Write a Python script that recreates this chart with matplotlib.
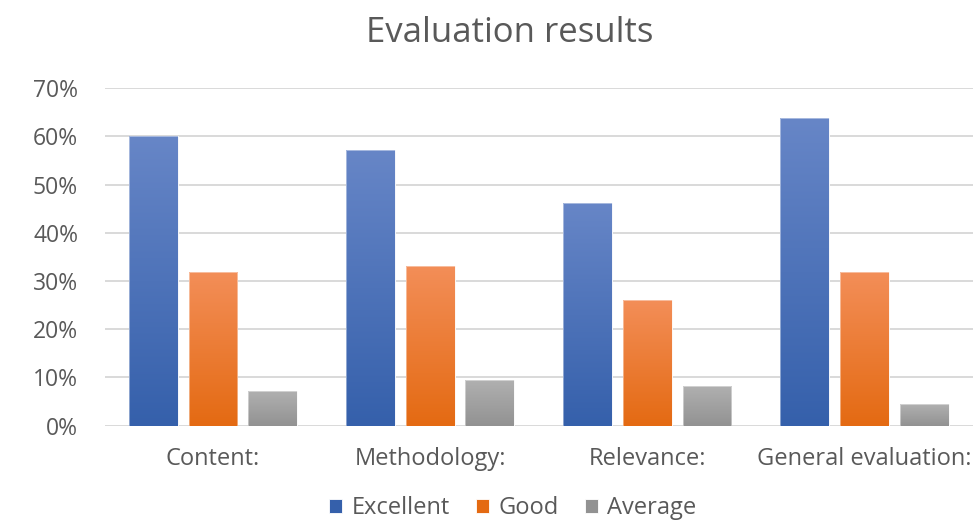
import matplotlib.pyplot as plt
import numpy as np
from matplotlib.colors import LinearSegmentedColormap

plt.rcParams['font.family'] = ['Open Sans', 'DejaVu Sans']

categories = ['Content:', 'Methodology:', 'Relevance:', 'General evaluation:']
series = ['Excellent', 'Good', 'Average']
excellent = [0.60, 0.572, 0.462, 0.638]
good = [0.319, 0.331, 0.261, 0.319]
average = [0.072, 0.095, 0.082, 0.045]

# top / bottom colours of each gradient fill
shades = [('#6786c7', '#3560ab'), ('#f38e58', '#e46a12'), ('#b0b0b0', '#929292')]

fig = plt.figure(figsize=(9.73, 5.24), dpi=100)
ax = fig.add_axes([0.1074, 0.1876, 0.8926, 0.6439])

x = np.arange(len(categories))
width = 0.225
step = 0.275
for i, (name, vals) in enumerate(zip(series, [excellent, good, average])):
    top, bottom = shades[i]
    cmap = LinearSegmentedColormap.from_list(name, [bottom, top])
    bars = ax.bar(x + (i - 1) * step, vals, width, color=bottom, label=name,
                  edgecolor='#ffffff', linewidth=0.6, zorder=2)
    for b in bars:
        x0, x1 = b.get_x(), b.get_x() + b.get_width()
        h = b.get_height()
        grad = np.linspace(0, 1, 256).reshape(-1, 1)
        ax.imshow(grad, cmap=cmap, origin='lower', aspect='auto',
                  extent=[x0, x1, 0, h], zorder=2.5)
        ax.add_patch(plt.Rectangle((x0, 0), x1 - x0, h, fill=False,
                                   edgecolor='#ffffff', linewidth=0.6,
                                   alpha=0.5, zorder=3))

ax.set_xlim(-0.5, len(categories) - 0.5)
ax.set_ylim(0, 0.7)
ax.set_yticks(np.arange(0, 0.71, 0.1))
ax.set_yticklabels([f'{int(round(v * 100))}%' for v in np.arange(0, 0.71, 0.1)])
ax.set_xticks(x)
ax.set_xticklabels(categories)
ax.tick_params(axis='both', length=0, labelcolor='#595959')
ax.tick_params(axis='y', pad=19, labelsize=16.5)
ax.tick_params(axis='x', pad=15, labelsize=17)
ax.yaxis.grid(True, color='#d9d9d9', linewidth=1.4, zorder=0)
ax.set_axisbelow(True)
for s in ax.spines.values():
    s.set_visible(False)

fig.text(0.524, 0.937, 'Evaluation results', ha='center', va='center',
         fontsize=25, color='#595959')

fig.legend(loc='center', bbox_to_anchor=(0.527, 0.03), ncol=3, frameon=False,
           fontsize=17, labelcolor='#595959', handlelength=0.55, handleheight=0.55,
           handletextpad=0.4, columnspacing=1.1)

fig.savefig('out.png', dpi=100)
